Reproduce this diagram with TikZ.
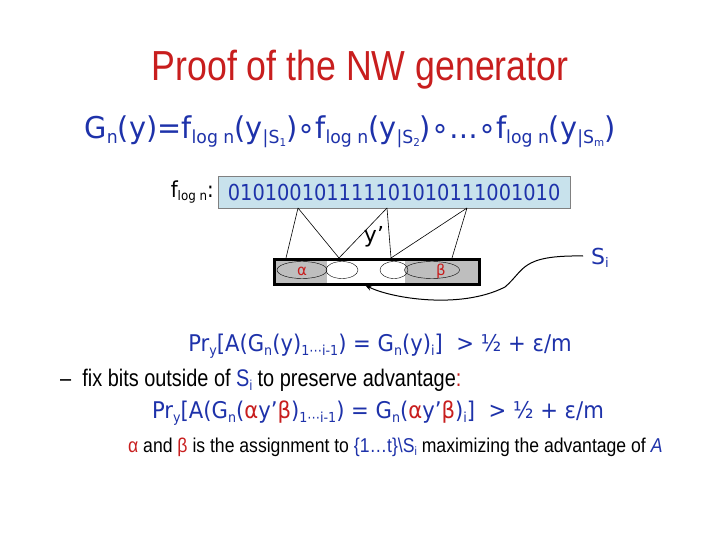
\documentclass[tikz,border=0pt]{standalone}
\usepackage{fontspec}
\setmainfont{DejaVu Sans}
\newfontfamily\arial{Liberation Sans}
\usetikzlibrary{arrows.meta,shapes.geometric}
\definecolor{tblue}{RGB}{30,50,170}
\definecolor{tred}{RGB}{200,30,30}
\definecolor{lbox}{RGB}{200,226,236}
\definecolor{gbar}{RGB}{190,190,190}
\tikzset{
  txt/.style={inner sep=0pt,anchor=center,text=tblue},
  thin/.style={draw=black,line width=0.6pt},
  ell/.style={draw,ellipse,minimum height=17,inner sep=0pt},
}
\newcommand{\al}{\textcolor{tred}{α}}
\newcommand{\be}{\textcolor{tred}{β}}
\newcommand{\sbs}[1]{\raisebox{-0.3ex}{\scalebox{0.6}{#1}}}
\begin{document}
\begin{tikzpicture}[x=1pt,y=-1pt]
\useasboundingbox[fill=white] (0,0) rectangle (720,540);
\node[txt,text=tred,font=\arial\fontsize{42}{46}\selectfont,xscale=0.85] (title) at (360,70) {Proof of the NW generator};
\node[txt,font=\fontsize{30}{32}\selectfont,xscale=0.96] (gn) at (350,132) {G\sbs{n}(y)=f\sbs{log n}(y\sbs{|S\sbs{1}})∘f\sbs{log n}(y\sbs{|S\sbs{2}})∘…∘f\sbs{log n}(y\sbs{|S\sbs{m}})};
\node[txt,text=black,font=\fontsize{22}{24}\selectfont,anchor=east,xscale=0.9] (fl) at (214,192) {f\sbs{log n}:};
\node[draw=gray,fill=lbox,minimum width=352,minimum height=32,inner sep=0pt,anchor=north west,text=tblue,font=\fontsize{22}{24}\selectfont] (box) at (218,176) {\scalebox{0.88}[1]{010100101111101010111001010}};
% bar
\fill[gbar] (273,258) rectangle (327,283);
\fill[gbar] (405,258) rectangle (478,283);
\node[draw=black,line width=2.5pt,minimum width=205,minimum height=25,inner sep=0pt,anchor=north west] (bar) at (273,258) {};
\node[ell,minimum width=50] (e1) at (302,270) {};
\node[ell,minimum width=32] (e2) at (342,270) {};
\node[ell,minimum width=28] (e3) at (394,270) {};
\node[ell,minimum width=55] (e4) at (432,270) {};
\node[txt,text=tred,font=\fontsize{15}{16}\selectfont] (a) at (302,271) {α};
\node[txt,text=tred,font=\fontsize{15}{16}\selectfont] (b) at (441,271) {β};
\coordinate (A) at (298,208); \coordinate (B) at (387,208); \coordinate (C) at (467,208);
\coordinate (p1) at (286,258); \coordinate (p2) at (339,258); \coordinate (p3) at (391,258); \coordinate (p4) at (452,258);
\draw[thin] (A)--(p1) (A)--(p2) (B)--(p2) (B)--(p3) (C)--(p3) (C)--(p4);
\node[txt,text=black,font=\fontsize{22}{24}\selectfont] (yp) at (374,237) {y’};
\node[txt,text=tblue,font=\fontsize{22}{24}\selectfont] (si) at (600,258) {S\sbs{i}};
\coordinate (cs) at (583,256);
\coordinate (ce) at (365,285);
\draw[line width=1pt,-{Stealth[length=7pt]}] (cs) .. controls (520,255) and (525,270) .. (505,287) .. controls (460,310) and (390,298) .. (ce);
% formulas
\node[txt,font=\fontsize{23}{26}\selectfont,xscale=0.92] (pr1) at (380,346) {Pr\sbs{y}[A(G\sbs{n}(y)\sbs{1⋯i-1}) = G\sbs{n}(y)\sbs{i}] \ > ½ + ε/m};
\node[txt,text=black,font=\arial\fontsize{24}{26}\selectfont,xscale=0.83,anchor=west] (fix) at (60,380) {–\ \ fix bits outside of \textcolor{tblue}{S\sbs{i}} to preserve advantage\textcolor{tred}{:}};
\node[txt,font=\fontsize{23}{26}\selectfont,xscale=0.92] (pr2) at (378,413) {Pr\sbs{y}[A(G\sbs{n}(\al y’\be)\sbs{1⋯i-1}) = G\sbs{n}(\al y’\be)\sbs{i}] \ > ½ + ε/m};
\node[txt,text=black,font=\arial\fontsize{20}{22}\selectfont,xscale=0.88,anchor=west] (ab) at (128,447) {\al{} and \be{} is the assignment to \textcolor{tblue}{\{1…t\}\textbackslash S\sbs{i}} maximizing the advantage of \textcolor{tblue}{\textit{A}}};
\end{tikzpicture}
\end{document}
